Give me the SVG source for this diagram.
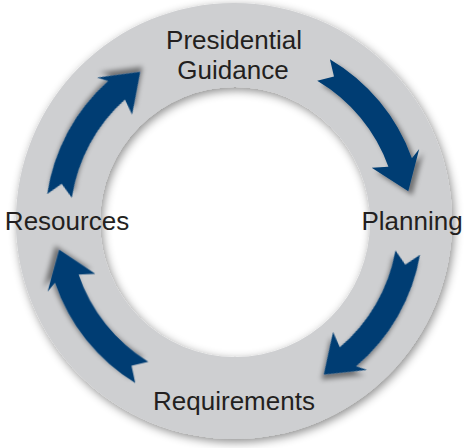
<svg xmlns="http://www.w3.org/2000/svg" width="465" height="448" viewBox="0 0 465 448">
  <style>
    .lbl { font-family: "Liberation Sans", Arial, sans-serif; font-size: 26px; fill: #231f20; text-anchor: middle; }
    .arrow { fill: #033e73; filter: url(#ashadow); }
  </style>
  <defs>
    <filter id="rshadow" x="-10%" y="-10%" width="120%" height="120%">
      <feDropShadow dx="2" dy="3" stdDeviation="5" flood-color="#000" flood-opacity="0.45"/>
    </filter>
    <filter id="ashadow" x="-20%" y="-20%" width="140%" height="140%">
      <feDropShadow dx="4" dy="4" stdDeviation="2.5" flood-color="#000" flood-opacity="0.45"/>
    </filter>
    <path id="arr" d="M 329.9,59.2 A 189 189 0 0 1 411.9,158.3 L 419.2,149.1 L 408.3,191.3 L 371.7,167.8 L 388.4,166.7 A 164 164 0 0 0 317.2,80.7 L 334,76.5 Z"/>
  </defs>
  <rect width="465" height="448" fill="#ffffff"/>
  <g id="ring">
    <path d="M 234,3 A 218 218 0 1 1 234,439 A 218 218 0 1 1 234,3 Z M 235,87 A 135 135 0 1 0 235,357 A 135 135 0 1 0 235,87 Z" fill="#cecfd1" fill-rule="evenodd" filter="url(#rshadow)"/>
  </g>
  <g id="connectors">
    <use href="#arr" class="arrow"/>
    <use href="#arr" class="arrow" transform="rotate(69.5 234 222)"/>
    <use href="#arr" class="arrow" transform="rotate(181 234 222)"/>
    <use href="#arr" class="arrow" transform="rotate(248 234 222)"/>
  </g>
  <g id="presidential-guidance">
    <text class="lbl" x="234" y="49">Presidential</text>
    <text class="lbl" x="233" y="78.5">Guidance</text>
  </g>
  <g id="planning">
    <text class="lbl" x="412" y="230">Planning</text>
  </g>
  <g id="requirements">
    <text class="lbl" x="234" y="410">Requirements</text>
  </g>
  <g id="resources">
    <text class="lbl" x="67" y="230">Resources</text>
  </g>
</svg>
